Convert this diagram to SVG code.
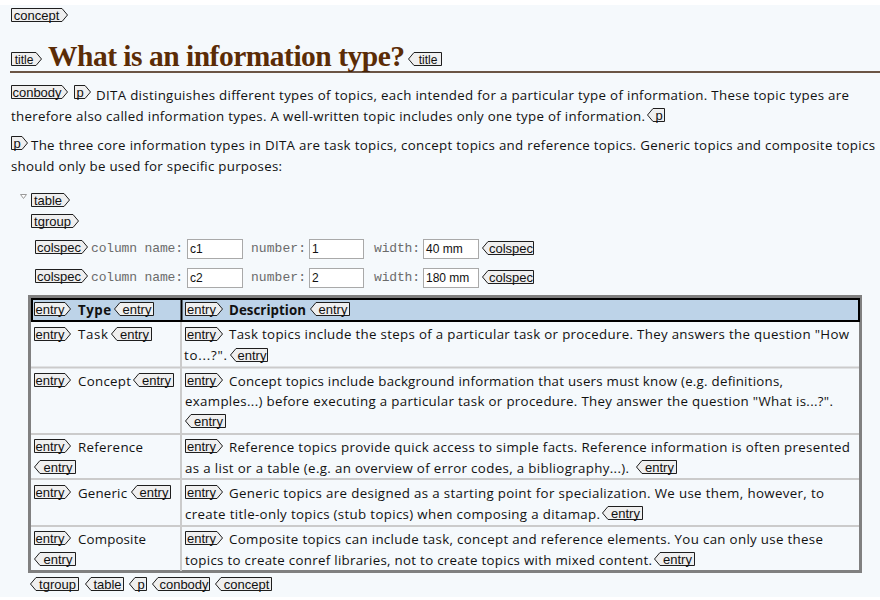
<svg xmlns="http://www.w3.org/2000/svg" width="880" height="600" viewBox="0 0 880 600">
<style>
.tag{fill:#efefef;stroke:#1e1e1e;stroke-width:1}
.tl{font-family:"Liberation Sans",Arial,sans-serif;font-size:13px;fill:#111;text-anchor:middle}
.ts{font-size:12px}
.tx{font-family:"Open Sans","Noto Sans",sans-serif;font-size:13.3px;fill:#111}
.b{font-weight:bold}
.mono{font-family:"Liberation Mono","Courier New",monospace;font-size:13px;fill:#6b6b6b}
.inp{fill:#ffffff;stroke:#a9a9a9;stroke-width:1}
.iv{font-family:"Liberation Sans",Arial,sans-serif;font-size:12px;fill:#111}
.sep{stroke:#cbcbcb;stroke-width:2}
</style>
<rect x="0" y="0" width="880" height="600" fill="#ffffff"/>
<rect x="0" y="5" width="880" height="592" fill="#f5f9fc"/>

<g id="concept-open"><path class="tag" d="M11.5,8.5 H62 L67.5,15 L62,21.5 H11.5 Z"/><text class="tl" x="36.5" y="19.5">concept</text></g>

<g id="title">
<path class="tag" d="M11.5,52.5 H36 L41.5,59 L36,65.5 H11.5 Z"/><text class="tl ts" x="24" y="63.5">title</text>
<text x="48" y="66" font-family="'Liberation Serif','Times New Roman',serif" font-size="29.5" font-weight="bold" fill="#5b2c06" textLength="357">What is an information type?</text>
<path class="tag" d="M441.5,52.5 H414 L408.5,59 L414,65.5 H441.5 Z"/><text class="tl ts" x="428" y="63.5">title</text>
<line x1="10" y1="72" x2="880" y2="72" stroke="#3c1e08" stroke-width="1.6"/>
</g>

<g id="para1">
<path class="tag" d="M11.5,85.5 H62 L67.5,92 L62,98.5 H11.5 Z"/><text class="tl" x="37" y="96.5">conbody</text>
<path class="tag" d="M74.5,85.5 H85 L90.5,92 L85,98.5 H74.5 Z"/><text class="tl" x="80" y="96.5">p</text>
<text class="tx" x="96" y="100" textLength="753">DITA distinguishes different types of topics, each intended for a particular type of information. These topic types are</text>
<text class="tx" x="11" y="121" textLength="634">therefore also called information types. A well-written topic includes only one type of information.</text>
<path class="tag" d="M664.5,108.5 H653 L647.5,115 L653,121.5 H664.5 Z"/><text class="tl" x="659" y="119.5">p</text>
</g>

<g id="para2">
<path class="tag" d="M11.5,136.5 H22 L27.5,143 L22,149.5 H11.5 Z"/><text class="tl" x="17" y="147.5">p</text>
<text class="tx" x="31" y="150" textLength="844">The three core information types in DITA are task topics, concept topics and reference topics. Generic topics and composite topics</text>
<text class="tx" x="11" y="171" textLength="271">should only be used for specific purposes:</text>
</g>

<g id="table-head">
<polygon points="20.5,194.5 26.5,194.5 23.5,198.5" fill="#ffffff" stroke="#9a9a9a" stroke-width="1"/>
<path class="tag" d="M31.5,193.5 H64 L69.5,200 L64,206.5 H31.5 Z"/><text class="tl" x="48" y="204.5">table</text>
<path class="tag" d="M31.5,214.5 H73 L78.5,221 L73,227.5 H31.5 Z"/><text class="tl" x="52.5" y="225.5">tgroup</text>
</g>

<g id="colspec1">
<path class="tag" d="M35.5,240.5 H82 L87.5,247 L82,253.5 H35.5 Z"/><text class="tl" x="59" y="251.5">colspec</text>
<text class="mono" x="91" y="252" textLength="92">column name:</text>
<rect class="inp" x="187.5" y="239.5" width="55" height="19"/><text class="iv" x="190" y="253">c1</text>
<text class="mono" x="251" y="252" textLength="55">number:</text>
<rect class="inp" x="309.5" y="239.5" width="54" height="19"/><text class="iv" x="312" y="253">1</text>
<text class="mono" x="374" y="252" textLength="46">width:</text>
<rect class="inp" x="423.5" y="239.5" width="55" height="19"/><text class="iv" x="426" y="253">40 mm</text>
<path class="tag" d="M533.5,241.5 H488 L482.5,248 L488,254.5 H533.5 Z"/><text class="tl" x="511" y="252.5">colspec</text>
</g>

<g id="colspec2">
<path class="tag" d="M35.5,269.5 H82 L87.5,276 L82,282.5 H35.5 Z"/><text class="tl" x="59" y="280.5">colspec</text>
<text class="mono" x="91" y="281" textLength="92">column name:</text>
<rect class="inp" x="187.5" y="268.5" width="55" height="19"/><text class="iv" x="190" y="282">c2</text>
<text class="mono" x="251" y="281" textLength="55">number:</text>
<rect class="inp" x="309.5" y="268.5" width="54" height="19"/><text class="iv" x="312" y="282">2</text>
<text class="mono" x="374" y="281" textLength="46">width:</text>
<rect class="inp" x="423.5" y="268.5" width="55" height="19"/><text class="iv" x="426" y="282">180 mm</text>
<path class="tag" d="M533.5,270.5 H488 L482.5,277 L488,283.5 H533.5 Z"/><text class="tl" x="511" y="281.5">colspec</text>
</g>

<g id="table-grid">
<rect x="29.5" y="296.5" width="831" height="275" fill="#f5f9fc" stroke="#808080" stroke-width="3"/>
<rect x="32" y="299" width="827" height="22" fill="#bdd3e8" stroke="#000000" stroke-width="2"/>
<line x1="181.5" y1="299" x2="181.5" y2="321" stroke="#000000" stroke-width="2"/>
<line class="sep" x1="181" y1="322" x2="181" y2="571"/>
<line class="sep" x1="31" y1="367.5" x2="859" y2="367.5"/>
<line class="sep" x1="31" y1="434" x2="859" y2="434"/>
<line class="sep" x1="31" y1="479" x2="859" y2="479"/>
<line class="sep" x1="31" y1="526" x2="859" y2="526"/>
</g>

<g id="row-header">
<path class="tag" d="M34.5,302.5 H65 L70.5,309 L65,315.5 H34.5 Z"/><text class="tl" x="50" y="313.5">entry</text>
<text class="tx b" x="78" y="315" textLength="33">Type</text>
<path class="tag" d="M153.5,302.5 H120 L114.5,309 L120,315.5 H153.5 Z"/><text class="tl" x="137" y="313.5">entry</text>
<path class="tag" d="M185.5,302.5 H217 L222.5,309 L217,315.5 H185.5 Z"/><text class="tl" x="201.5" y="313.5">entry</text>
<text class="tx b" x="229" y="315" textLength="77">Description</text>
<path class="tag" d="M349.5,302.5 H316 L310.5,309 L316,315.5 H349.5 Z"/><text class="tl" x="333" y="313.5">entry</text>
</g>

<g id="row-task">
<path class="tag" d="M34.5,327.5 H65 L70.5,334 L65,340.5 H34.5 Z"/><text class="tl" x="50" y="338.5">entry</text>
<text class="tx" x="78" y="339" textLength="30">Task</text>
<path class="tag" d="M151.5,327.5 H117 L111.5,334 L117,340.5 H151.5 Z"/><text class="tl" x="134.5" y="338.5">entry</text>
<path class="tag" d="M185.5,327.5 H217 L222.5,334 L217,340.5 H185.5 Z"/><text class="tl" x="201.5" y="338.5">entry</text>
<text class="tx" x="229" y="339" textLength="620">Task topics include the steps of a particular task or procedure. They answers the question "How</text>
<text class="tx" x="184" y="360" textLength="43">to...?".</text>
<path class="tag" d="M267.5,348.5 H236 L230.5,355 L236,361.5 H267.5 Z"/><text class="tl" x="252" y="359.5">entry</text>
</g>

<g id="row-concept">
<path class="tag" d="M34.5,373.5 H65 L70.5,380 L65,386.5 H34.5 Z"/><text class="tl" x="50" y="384.5">entry</text>
<text class="tx" x="78" y="386" textLength="53">Concept</text>
<path class="tag" d="M173.5,373.5 H139 L133.5,380 L139,386.5 H173.5 Z"/><text class="tl" x="156.5" y="384.5">entry</text>
<path class="tag" d="M185.5,373.5 H217 L222.5,380 L217,386.5 H185.5 Z"/><text class="tl" x="201.5" y="384.5">entry</text>
<text class="tx" x="229" y="386" textLength="554">Concept topics include background information that users must know (e.g. definitions,</text>
<text class="tx" x="185" y="406" textLength="648">examples...) before executing a particular task or procedure. They answer the question "What is...?".</text>
<path class="tag" d="M225.5,414.5 H191 L185.5,421 L191,427.5 H225.5 Z"/><text class="tl" x="208.5" y="425.5">entry</text>
</g>

<g id="row-reference">
<path class="tag" d="M34.5,439.5 H65 L70.5,446 L65,452.5 H34.5 Z"/><text class="tl" x="50" y="450.5">entry</text>
<text class="tx" x="78" y="452" textLength="65">Reference</text>
<path class="tag" d="M75.5,460.5 H40 L34.5,467 L40,473.5 H75.5 Z"/><text class="tl" x="58" y="471.5">entry</text>
<path class="tag" d="M185.5,439.5 H217 L222.5,446 L217,452.5 H185.5 Z"/><text class="tl" x="201.5" y="450.5">entry</text>
<text class="tx" x="229" y="452" textLength="621">Reference topics provide quick access to simple facts. Reference information is often presented</text>
<text class="tx" x="185" y="473" textLength="444">as a list or a table (e.g. an overview of error codes, a bibliography...).</text>
<path class="tag" d="M676.5,460.5 H642 L636.5,467 L642,473.5 H676.5 Z"/><text class="tl" x="659.5" y="471.5">entry</text>
</g>

<g id="row-generic">
<path class="tag" d="M34.5,485.5 H65 L70.5,492 L65,498.5 H34.5 Z"/><text class="tl" x="50" y="496.5">entry</text>
<text class="tx" x="78" y="498" textLength="49">Generic</text>
<path class="tag" d="M170.5,485.5 H137 L131.5,492 L137,498.5 H170.5 Z"/><text class="tl" x="154" y="496.5">entry</text>
<path class="tag" d="M185.5,485.5 H217 L222.5,492 L217,498.5 H185.5 Z"/><text class="tl" x="201.5" y="496.5">entry</text>
<text class="tx" x="229" y="498" textLength="595">Generic topics are designed as a starting point for specialization. We use them, however, to</text>
<text class="tx" x="185" y="519" textLength="415">create title-only topics (stub topics) when composing a ditamap.</text>
<path class="tag" d="M642.5,506.5 H608 L602.5,513 L608,519.5 H642.5 Z"/><text class="tl" x="625.5" y="517.5">entry</text>
</g>

<g id="row-composite">
<path class="tag" d="M34.5,531.5 H65 L70.5,538 L65,544.5 H34.5 Z"/><text class="tl" x="50" y="542.5">entry</text>
<text class="tx" x="78" y="544" textLength="68">Composite</text>
<path class="tag" d="M75.5,552.5 H40 L34.5,559 L40,565.5 H75.5 Z"/><text class="tl" x="58" y="563.5">entry</text>
<path class="tag" d="M185.5,531.5 H217 L222.5,538 L217,544.5 H185.5 Z"/><text class="tl" x="201.5" y="542.5">entry</text>
<text class="tx" x="229" y="544" textLength="594">Composite topics can include task, concept and reference elements. You can only use these</text>
<text class="tx" x="185" y="565" textLength="467">topics to create conref libraries, not to create topics with mixed content.</text>
<path class="tag" d="M694.5,552.5 H660 L654.5,559 L660,565.5 H694.5 Z"/><text class="tl" x="677.5" y="563.5">entry</text>
</g>

<g id="closing-tags">
<path class="tag" d="M78.5,577.5 H36 L30.5,584 L36,590.5 H78.5 Z"/><text class="tl" x="57.5" y="588.5">tgroup</text>
<path class="tag" d="M123.5,577.5 H91 L85.5,584 L91,590.5 H123.5 Z"/><text class="tl" x="107.5" y="588.5">table</text>
<path class="tag" d="M146.5,577.5 H135 L129.5,584 L135,590.5 H146.5 Z"/><text class="tl" x="141" y="588.5">p</text>
<path class="tag" d="M209.5,577.5 H158 L152.5,584 L158,590.5 H209.5 Z"/><text class="tl" x="184" y="588.5">conbody</text>
<path class="tag" d="M271.5,577.5 H221 L215.5,584 L221,590.5 H271.5 Z"/><text class="tl" x="246.5" y="588.5">concept</text>
</g>
</svg>
